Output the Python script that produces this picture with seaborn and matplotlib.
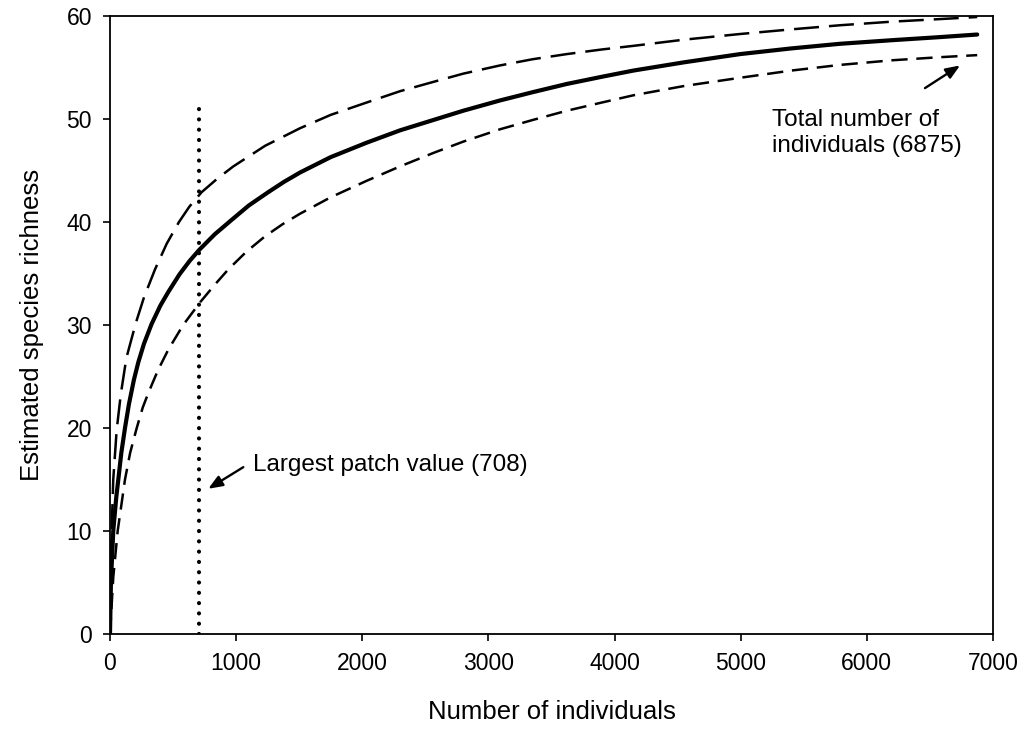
import matplotlib
matplotlib.use("Agg")
import matplotlib.pyplot as plt
import seaborn as sns
import pandas as pd

# Rarefaction curve: estimated species richness vs number of individuals
x_mean = [0, 8, 26, 50, 66, 90, 119, 150, 190, 225, 270, 330, 400, 462, 550, 630, 708, 830, 964,
          1100, 1255, 1380, 1506, 1750, 2035, 2300, 2563, 2800, 3092, 3350, 3621, 3900, 4149,
          4550, 4995, 5400, 5787, 6200, 6580, 6875]
y_mean = [0, 5.2, 10.0, 13.3, 15.0, 17.6, 20.0, 22.3, 24.7, 26.4, 28.2, 30.1, 31.9, 33.2, 34.9, 36.2, 37.3, 38.8, 40.2,
          41.6, 42.9, 43.9, 44.8, 46.3, 47.7, 48.9, 49.9, 50.8, 51.8, 52.6, 53.4, 54.1, 54.7,
          55.5, 56.3, 56.85, 57.3, 57.65, 57.95, 58.2]

x_upper = [0, 13, 26, 53, 86, 130, 205, 270, 357, 450, 547, 630, 727, 850, 978, 1230, 1506, 1750,
           2035, 2300, 2563, 2800, 3092, 3350, 3621, 3900, 4149, 4550, 4995, 5400, 5787, 6200, 6580, 6875]
y_upper = [0, 10.0, 15.0, 19.8, 23.3, 26.8, 30.2, 32.7, 35.4, 37.9, 40.0, 41.5, 42.9, 44.2, 45.4, 47.4, 49.1, 50.4,
           51.6, 52.7, 53.6, 54.4, 55.2, 55.8, 56.3, 56.75, 57.1, 57.7, 58.25, 58.7, 59.1, 59.45, 59.7, 59.9]

x_lower = [0, 26, 61, 119, 160, 212, 260, 304, 380, 462, 580, 714, 830, 938, 1080, 1228, 1370, 1506,
           1750, 2035, 2300, 2563, 2800, 3092, 3350, 3621, 3900, 4149, 4550, 4995, 5400, 5787, 6200, 6580, 6875]
y_lower = [0, 5.5, 10.0, 15.0, 17.6, 20.0, 22.0, 23.4, 25.6, 27.6, 30.0, 32.2, 33.9, 35.4, 37.1, 38.6, 39.8, 40.8,
           42.4, 44.0, 45.4, 46.7, 47.8, 49.0, 49.9, 50.8, 51.6, 52.3, 53.2, 54.0, 54.7, 55.25, 55.7, 56.0, 56.2]

largest_patch = 708
total_individuals = 6875
patch_line_top = 51.1

x_ticks = [0, 1000, 2000, 3000, 4000, 5000, 6000, 7000]
y_ticks = [0, 10, 20, 30, 40, 50, 60]

sns.set_theme(style="ticks")
plt.rcParams["font.family"] = ["Liberation Sans", "DejaVu Sans"]
plt.rcParams["text.color"] = "black"
plt.rcParams["axes.labelcolor"] = "black"
plt.rcParams["xtick.color"] = "black"
plt.rcParams["ytick.color"] = "black"

fig = plt.figure(figsize=(10.24, 7.4), dpi=100)
ax = fig.add_axes([0.1074, 0.1432, 0.8623, 0.8352])

df_mean = pd.DataFrame({"x": x_mean, "y": y_mean})
df_up = pd.DataFrame({"x": x_upper, "y": y_upper})
df_lo = pd.DataFrame({"x": x_lower, "y": y_lower})

sns.lineplot(data=df_up, x="x", y="y", ax=ax, color="black", linewidth=1.8,
             linestyle=(0, (10, 4)), estimator=None, sort=False)
sns.lineplot(data=df_lo, x="x", y="y", ax=ax, color="black", linewidth=1.8,
             linestyle=(0, (6.5, 3.5)), estimator=None, sort=False)
sns.lineplot(data=df_mean, x="x", y="y", ax=ax, color="black", linewidth=3.0,
             estimator=None, sort=False)

ax.plot([largest_patch, largest_patch], [0, patch_line_top], color="black",
        linewidth=3.0, linestyle=(0, (0.01, 2.46)), dash_capstyle="round")

arrow_style = "-|>,head_length=0.5,head_width=0.2"
ax.annotate("", xy=(779, 14.1), xytext=(1057, 16.2),
            arrowprops=dict(arrowstyle=arrow_style, color="black", lw=1.7,
                            shrinkA=0, shrinkB=0, mutation_scale=17))
ax.text(1134, 16.4, "Largest patch value (708)", fontsize=17.5,
        ha="left", va="center")

ax.annotate("", xy=(6739, 55.2), xytext=(6461, 53.0),
            arrowprops=dict(arrowstyle=arrow_style, color="black", lw=1.7,
                            shrinkA=0, shrinkB=0, mutation_scale=17))
ax.text(5248, 51.0, "Total number of\nindividuals (6875)", fontsize=17.5,
        ha="left", va="top", linespacing=1.28)

ax.set_xlim(0, 7000)
ax.set_ylim(0, 60)
ax.set_xticks(x_ticks)
ax.set_yticks(y_ticks)
ax.tick_params(axis="both", direction="out", length=5, width=1.2,
               labelsize=16.5, pad=8, top=False, right=False, colors="black")
ax.set_xlabel("Number of individuals", fontsize=18.5, labelpad=18)
ax.set_ylabel("Estimated species richness", fontsize=18.5, labelpad=16)
for s in ax.spines.values():
    s.set_visible(True)
    s.set_linewidth(1.3)
    s.set_color("black")

fig.savefig("out.png", dpi=100, facecolor="white")
